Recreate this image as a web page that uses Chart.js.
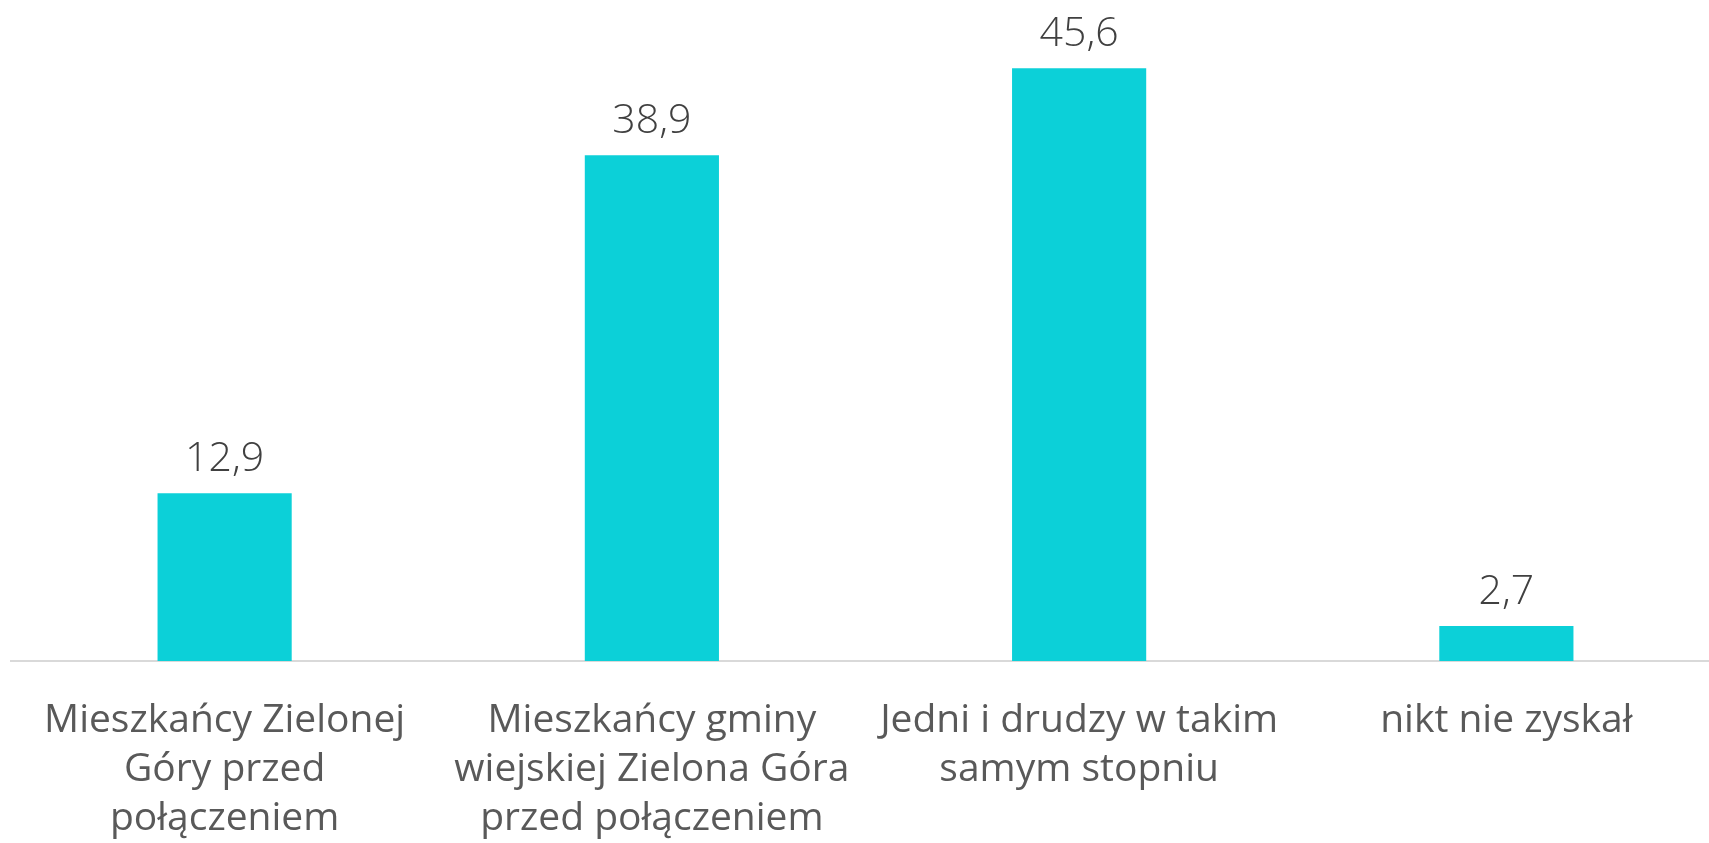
<!DOCTYPE html>
<html>
<head>
<meta charset="utf-8">
<script src="https://cdn.jsdelivr.net/npm/chart.js@4"></script>
<style>
  html, body { margin: 0; padding: 0; background: #fff; overflow: hidden; }
  #wrap { width: 1720px; height: 843px; }
</style>
</head>
<body>
<div id="wrap"><canvas id="myChart"></canvas></div>
<script>
const categories = [
    ['Mieszkańcy Zielonej', 'Góry przed', 'połączeniem'],
    ['Mieszkańcy gminy', 'wiejskiej Zielona Góra', 'przed połączeniem'],
    ['Jedni i drudzy w takim', 'samym stopniu'],
    ['nikt nie zyskał']
];
const values = [12.9, 38.9, 45.6, 2.7];

const valueLabels = {
    id: 'valueLabels',
    afterDatasetsDraw(chart) {
        const ctx = chart.ctx;
        const meta = chart.getDatasetMeta(0);
        ctx.save();
        ctx.font = '300 41px "Open Sans"';
        ctx.fillStyle = '#404040';
        ctx.textAlign = 'center';
        ctx.textBaseline = 'alphabetic';
        meta.data.forEach((bar, i) => {
            const txt = values[i].toFixed(1).replace('.', ',');
            ctx.fillText(txt, bar.x, bar.y - 22);
        });
        ctx.restore();
    }
};

new Chart(document.getElementById('myChart').getContext('2d'), {
    type: 'bar',
    data: {
        labels: categories,
        datasets: [{
            data: values,
            backgroundColor: '#0cd0d8',
            categoryPercentage: 1,
            barPercentage: 0.314
        }]
    },
    options: {
        responsive: true,
        maintainAspectRatio: false,
        animation: false,
        layout: {
            padding: { top: 11, left: 11, right: 0, bottom: 0 }
        },
        plugins: {
            legend: { display: false },
            tooltip: { enabled: false }
        },
        scales: {
            x: {
                grid: { display: false },
                border: { color: '#d9d9d9', width: 2 },
                ticks: {
                    color: '#595959',
                    font: { family: 'Open Sans', size: 39, lineHeight: 1.26 },
                    padding: 27,
                    maxRotation: 0,
                    autoSkip: false
                },
                afterFit(axis) { axis.height = 182; }
            },
            y: {
                display: false,
                min: 0,
                max: 50
            }
        }
    },
    plugins: [valueLabels]
});
</script>
</body>
</html>
